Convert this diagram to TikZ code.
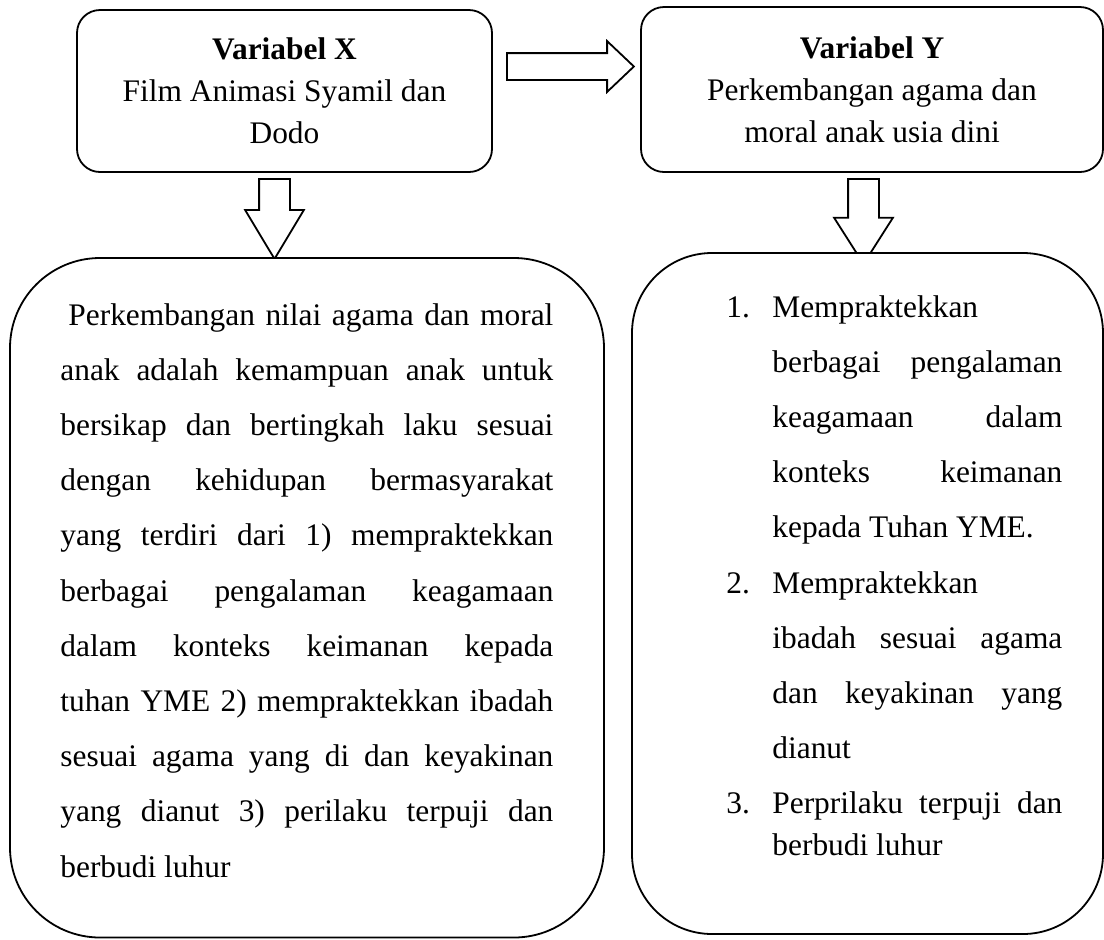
\documentclass[tikz,border=0pt]{standalone}
\usepackage{fontspec}
\setmainfont{Liberation Serif}
\usetikzlibrary{shapes.arrows}

\begin{document}
\begin{tikzpicture}[x=0.5pt,y=-0.5pt,
    every node/.style={font=\fontsize{15.7pt}{21pt}\selectfont},
    varbox/.style={draw,line width=0.9pt,rounded corners=11.5pt,align=center,inner sep=0pt},
    isibox/.style={draw,line width=0.9pt,fill=white,inner sep=0pt},
    isitext/.style={anchor=base west,inner sep=0pt,align=justify,
      font=\fontsize{15.7pt}{27.6pt}\selectfont,
      execute at begin node={\tolerance=10000\hbadness=10000\parindent=0pt\parskip=0pt}},
    blok/.style={draw,line width=0.9pt,single arrow,inner xsep=0pt,anchor=tail}]
  \useasboundingbox (0,0) rectangle (1104,939);
  \node[varbox,minimum width=207.5pt,minimum height=81pt] (varx) at (284.5,91)
    {\textbf{Variabel X}\\Film Animasi Syamil dan\\Dodo};
  \node[varbox,minimum width=231pt,minimum height=82.5pt] (vary) at (872,89.5)
    {\textbf{Variabel Y}\\Perkembangan agama dan\\moral anak usia dini};
  \node[blok,minimum height=63.5pt,inner ysep=6.25pt,single arrow head extend=6pt,
    single arrow tip angle=87] (panahxy) at (506,66.5) {};
  \node[blok,rotate=-90,minimum height=40pt,inner ysep=7.25pt,single arrow head extend=7pt,
    single arrow tip angle=62] (panahx) at (274.5,178) {};
  \node[blok,rotate=-90,minimum height=42.5pt,inner ysep=7.25pt,single arrow head extend=7pt,
    single arrow tip angle=65] (panahy) at (863.5,178) {};
  \node[isibox,rounded corners=45pt,minimum width=297pt,minimum height=339.75pt] (isix) at (307,597.75) {};
  \node[isibox,rounded corners=40pt,minimum width=235.5pt,minimum height=340.5pt] (isiy) at (867.5,593.5) {};
  \node[isitext,text width=246.5pt] (isixtext) at (60,325) {\hspace*{4pt}Perkembangan nilai agama dan moral\linebreak
    anak adalah kemampuan anak untuk\linebreak
    bersikap dan bertingkah laku sesuai\linebreak
    dengan kehidupan bermasyarakat\linebreak
    yang terdiri dari 1) mempraktekkan\linebreak
    berbagai pengalaman keagamaan\linebreak
    dalam konteks keimanan kepada\linebreak
    tuhan YME 2) mempraktekkan ibadah\linebreak
    sesuai agama yang di dan keyakinan\linebreak
    yang dianut 3) perilaku terpuji dan\linebreak
    berbudi luhur};
  \node[isitext,text width=168pt] (isiytext) at (726,317) {%
    \hangindent=23pt\hangafter=1\makebox[23pt][l]{1.}Mempraktekkan\linebreak
    berbagai pengalaman\linebreak keagamaan dalam\linebreak konteks keimanan\linebreak
    kepada Tuhan YME.\par
    \hangindent=23pt\hangafter=1\makebox[23pt][l]{2.}Mempraktekkan\linebreak
    ibadah sesuai agama\linebreak dan keyakinan yang\linebreak dianut\par
    \hangindent=23pt\hangafter=1\makebox[23pt][l]{3.}Perprilaku terpuji dan\vadjust{\vskip-6.6pt}\linebreak
    berbudi luhur\par};
\end{tikzpicture}
\end{document}
